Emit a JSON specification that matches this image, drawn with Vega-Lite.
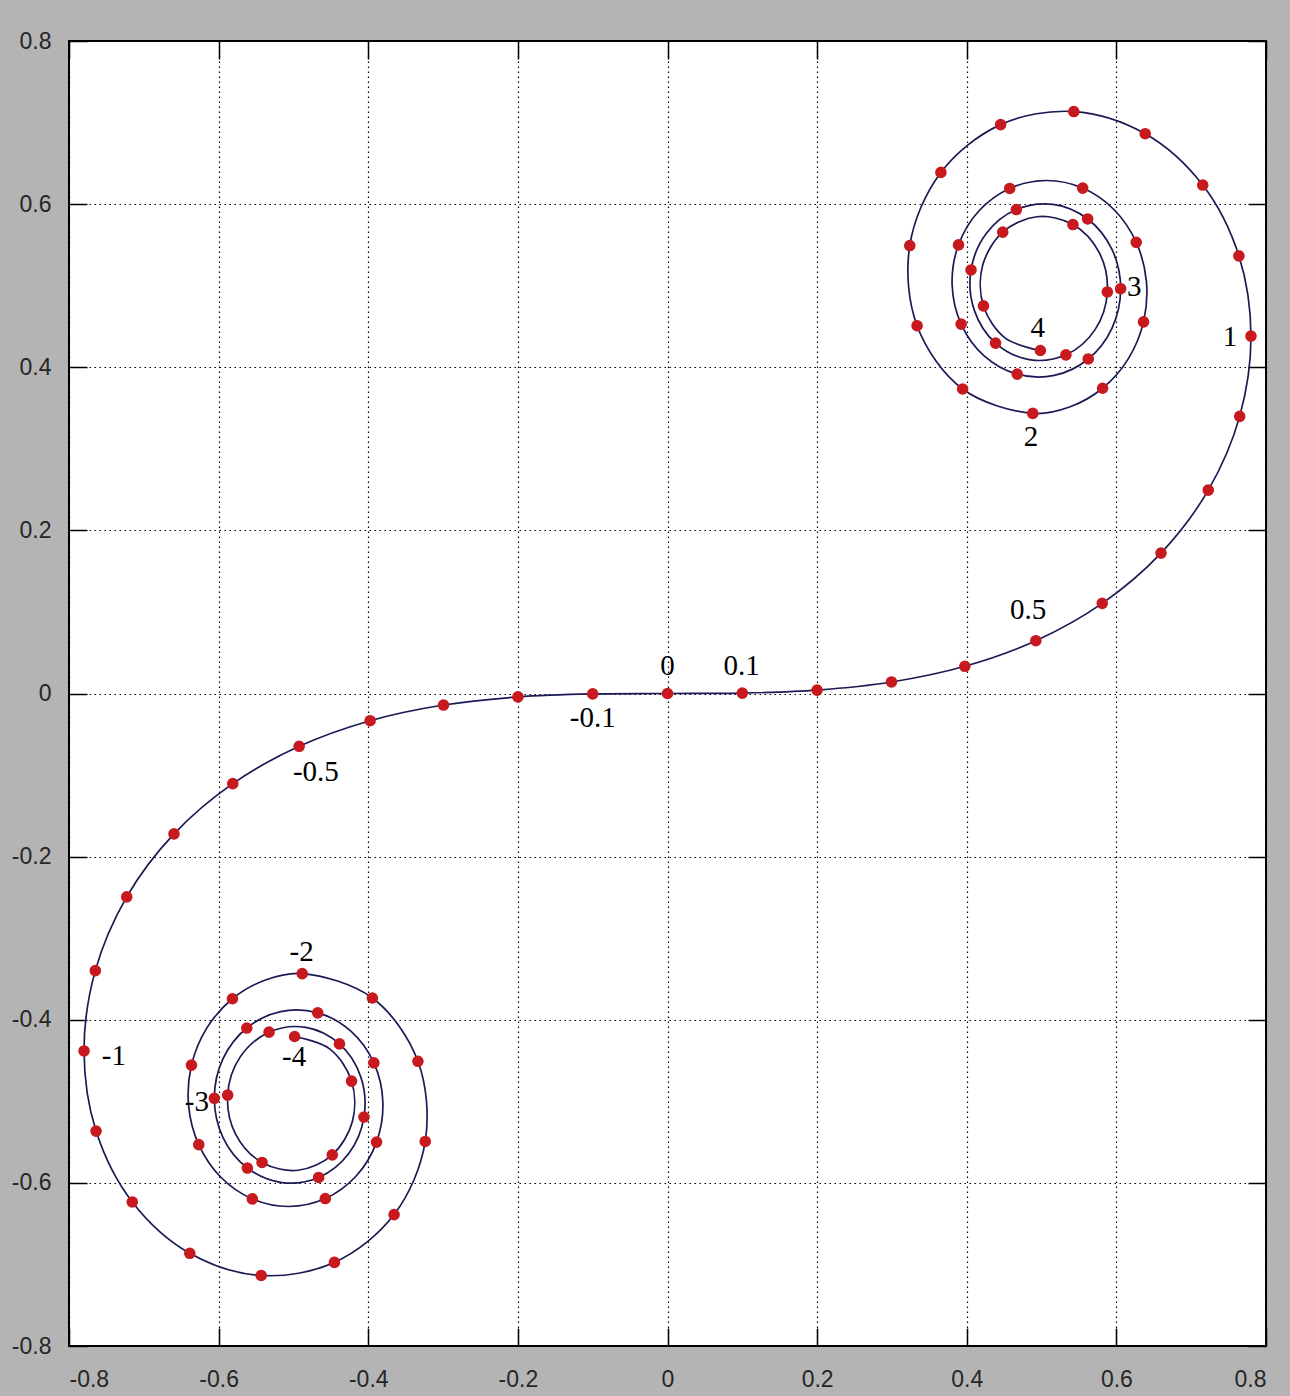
{
  "$schema": "https://vega.github.io/schema/vega-lite/v6.json",
  "width": 1197,
  "height": 1305,
  "autosize": {"type": "none"},
  "padding": {"left": 69, "top": 41, "right": 24, "bottom": 50},
  "background": "#b4b4b4",
  "config": {
    "view": {"fill": "white", "stroke": "black", "strokeWidth": 2},
    "axis": {
      "title": null,
      "domain": false,
      "labelFont": "Liberation Sans",
      "labelFontSize": 23,
      "labelColor": "#262626",
      "tickColor": "black",
      "tickWidth": 1.5,
      "tickSize": -18,
      "gridColor": "black",
      "gridOpacity": 1,
      "gridWidth": 1.2,
      "gridDash": [1.5, 3.5]
    }
  },
  "datasets": {
    "curve": [
      {"t": -4.0, "x": -0.49842, "y": -0.42052, "kind": "step"},
      {"t": -3.95, "x": -0.45159, "y": -0.43566, "kind": "mid"},
      {"t": -3.9, "x": -0.42233, "y": -0.47521, "kind": "step"},
      {"t": -3.85, "x": -0.42110, "y": -0.52444, "kind": "mid"},
      {"t": -3.8, "x": -0.44810, "y": -0.56562, "kind": "step"},
      {"t": -3.75, "x": -0.49361, "y": -0.58455, "kind": "mid"},
      {"t": -3.7, "x": -0.54195, "y": -0.57498, "kind": "step"},
      {"t": -3.65, "x": -0.57715, "y": -0.54043, "kind": "mid"},
      {"t": -3.6, "x": -0.58795, "y": -0.49231, "kind": "step"},
      {"t": -3.55, "x": -0.57130, "y": -0.44583, "kind": "mid"},
      {"t": -3.5, "x": -0.53257, "y": -0.41524, "kind": "step"},
      {"t": -3.45, "x": -0.48352, "y": -0.40936, "kind": "mid"},
      {"t": -3.4, "x": -0.43849, "y": -0.42965, "kind": "step"},
      {"t": -3.35, "x": -0.41001, "y": -0.47005, "kind": "mid"},
      {"t": -3.3, "x": -0.40570, "y": -0.51929, "kind": "step"},
      {"t": -3.25, "x": -0.42633, "y": -0.56425, "kind": "mid"},
      {"t": -3.2, "x": -0.46632, "y": -0.59335, "kind": "step"},
      {"t": -3.15, "x": -0.51543, "y": -0.59963, "kind": "mid"},
      {"t": -3.1, "x": -0.56160, "y": -0.58181, "kind": "step"},
      {"t": -3.05, "x": -0.59412, "y": -0.54445, "kind": "mid"},
      {"t": -3.0, "x": -0.60572, "y": -0.49631, "kind": "step"},
      {"t": -2.95, "x": -0.59423, "y": -0.44810, "kind": "mid"},
      {"t": -2.9, "x": -0.56238, "y": -0.41014, "kind": "step"},
      {"t": -2.85, "x": -0.51705, "y": -0.39002, "kind": "mid"},
      {"t": -2.8, "x": -0.46749, "y": -0.39153, "kind": "step"},
      {"t": -2.75, "x": -0.42324, "y": -0.41399, "kind": "mid"},
      {"t": -2.7, "x": -0.39249, "y": -0.45292, "kind": "step"},
      {"t": -2.65, "x": -0.38045, "y": -0.50108, "kind": "mid"},
      {"t": -2.6, "x": -0.38894, "y": -0.54999, "kind": "step"},
      {"t": -2.55, "x": -0.41614, "y": -0.59155, "kind": "mid"},
      {"t": -2.5, "x": -0.45741, "y": -0.61918, "kind": "step"},
      {"t": -2.45, "x": -0.50614, "y": -0.62896, "kind": "mid"},
      {"t": -2.4, "x": -0.55496, "y": -0.61969, "kind": "step"},
      {"t": -2.35, "x": -0.59699, "y": -0.59312, "kind": "mid"},
      {"t": -2.3, "x": -0.62656, "y": -0.55315, "kind": "step"},
      {"t": -2.25, "x": -0.64015, "y": -0.50529, "kind": "mid"},
      {"t": -2.2, "x": -0.63629, "y": -0.45570, "kind": "step"},
      {"t": -2.15, "x": -0.61587, "y": -0.41031, "kind": "mid"},
      {"t": -2.1, "x": -0.58156, "y": -0.37427, "kind": "step"},
      {"t": -2.05, "x": -0.53740, "y": -0.35127, "kind": "mid"},
      {"t": -2.0, "x": -0.48825, "y": -0.34342, "kind": "step"},
      {"t": -1.9, "x": -0.39447, "y": -0.37335, "kind": "step"},
      {"t": -1.8, "x": -0.33363, "y": -0.45094, "kind": "step"},
      {"t": -1.7, "x": -0.32383, "y": -0.54920, "kind": "step"},
      {"t": -1.6, "x": -0.36546, "y": -0.63889, "kind": "step"},
      {"t": -1.5, "x": -0.44526, "y": -0.69750, "kind": "step"},
      {"t": -1.4, "x": -0.54310, "y": -0.71353, "kind": "step"},
      {"t": -1.3, "x": -0.63855, "y": -0.68633, "kind": "step"},
      {"t": -1.2, "x": -0.71544, "y": -0.62340, "kind": "step"},
      {"t": -1.1, "x": -0.76381, "y": -0.53650, "kind": "step"},
      {"t": -1.0, "x": -0.77989, "y": -0.43826, "kind": "step"},
      {"t": -0.9, "x": -0.76482, "y": -0.33978, "kind": "step"},
      {"t": -0.8, "x": -0.72284, "y": -0.24934, "kind": "step"},
      {"t": -0.7, "x": -0.65965, "y": -0.17214, "kind": "step"},
      {"t": -0.6, "x": -0.58110, "y": -0.11054, "kind": "step"},
      {"t": -0.5, "x": -0.49234, "y": -0.06473, "kind": "step"},
      {"t": -0.4, "x": -0.39748, "y": -0.03336, "kind": "step"},
      {"t": -0.3, "x": -0.29940, "y": -0.01412, "kind": "step"},
      {"t": -0.2, "x": -0.19992, "y": -0.00419, "kind": "step"},
      {"t": -0.1, "x": -0.09999, "y": -0.00052, "kind": "step"},
      {"t": 0.0, "x": 0.0, "y": 0.0, "kind": "step"},
      {"t": 0.1, "x": 0.09999, "y": 0.00052, "kind": "step"},
      {"t": 0.2, "x": 0.19992, "y": 0.00419, "kind": "step"},
      {"t": 0.3, "x": 0.29940, "y": 0.01412, "kind": "step"},
      {"t": 0.4, "x": 0.39748, "y": 0.03336, "kind": "step"},
      {"t": 0.5, "x": 0.49234, "y": 0.06473, "kind": "step"},
      {"t": 0.6, "x": 0.58110, "y": 0.11054, "kind": "step"},
      {"t": 0.7, "x": 0.65965, "y": 0.17214, "kind": "step"},
      {"t": 0.8, "x": 0.72284, "y": 0.24934, "kind": "step"},
      {"t": 0.9, "x": 0.76482, "y": 0.33978, "kind": "step"},
      {"t": 1.0, "x": 0.77989, "y": 0.43826, "kind": "step"},
      {"t": 1.1, "x": 0.76381, "y": 0.53650, "kind": "step"},
      {"t": 1.2, "x": 0.71544, "y": 0.62340, "kind": "step"},
      {"t": 1.3, "x": 0.63855, "y": 0.68633, "kind": "step"},
      {"t": 1.4, "x": 0.54310, "y": 0.71353, "kind": "step"},
      {"t": 1.5, "x": 0.44526, "y": 0.69750, "kind": "step"},
      {"t": 1.6, "x": 0.36546, "y": 0.63889, "kind": "step"},
      {"t": 1.7, "x": 0.32383, "y": 0.54920, "kind": "step"},
      {"t": 1.8, "x": 0.33363, "y": 0.45094, "kind": "step"},
      {"t": 1.9, "x": 0.39447, "y": 0.37335, "kind": "step"},
      {"t": 2.0, "x": 0.48825, "y": 0.34342, "kind": "step"},
      {"t": 2.05, "x": 0.53740, "y": 0.35127, "kind": "mid"},
      {"t": 2.1, "x": 0.58156, "y": 0.37427, "kind": "step"},
      {"t": 2.15, "x": 0.61587, "y": 0.41031, "kind": "mid"},
      {"t": 2.2, "x": 0.63629, "y": 0.45570, "kind": "step"},
      {"t": 2.25, "x": 0.64015, "y": 0.50529, "kind": "mid"},
      {"t": 2.3, "x": 0.62656, "y": 0.55315, "kind": "step"},
      {"t": 2.35, "x": 0.59699, "y": 0.59312, "kind": "mid"},
      {"t": 2.4, "x": 0.55496, "y": 0.61969, "kind": "step"},
      {"t": 2.45, "x": 0.50614, "y": 0.62896, "kind": "mid"},
      {"t": 2.5, "x": 0.45741, "y": 0.61918, "kind": "step"},
      {"t": 2.55, "x": 0.41614, "y": 0.59155, "kind": "mid"},
      {"t": 2.6, "x": 0.38894, "y": 0.54999, "kind": "step"},
      {"t": 2.65, "x": 0.38045, "y": 0.50108, "kind": "mid"},
      {"t": 2.7, "x": 0.39249, "y": 0.45292, "kind": "step"},
      {"t": 2.75, "x": 0.42324, "y": 0.41399, "kind": "mid"},
      {"t": 2.8, "x": 0.46749, "y": 0.39153, "kind": "step"},
      {"t": 2.85, "x": 0.51705, "y": 0.39002, "kind": "mid"},
      {"t": 2.9, "x": 0.56238, "y": 0.41014, "kind": "step"},
      {"t": 2.95, "x": 0.59423, "y": 0.44810, "kind": "mid"},
      {"t": 3.0, "x": 0.60572, "y": 0.49631, "kind": "step"},
      {"t": 3.05, "x": 0.59412, "y": 0.54445, "kind": "mid"},
      {"t": 3.1, "x": 0.56160, "y": 0.58181, "kind": "step"},
      {"t": 3.15, "x": 0.51543, "y": 0.59963, "kind": "mid"},
      {"t": 3.2, "x": 0.46632, "y": 0.59335, "kind": "step"},
      {"t": 3.25, "x": 0.42633, "y": 0.56425, "kind": "mid"},
      {"t": 3.3, "x": 0.40570, "y": 0.51929, "kind": "step"},
      {"t": 3.35, "x": 0.41001, "y": 0.47005, "kind": "mid"},
      {"t": 3.4, "x": 0.43849, "y": 0.42965, "kind": "step"},
      {"t": 3.45, "x": 0.48352, "y": 0.40936, "kind": "mid"},
      {"t": 3.5, "x": 0.53257, "y": 0.41524, "kind": "step"},
      {"t": 3.55, "x": 0.57130, "y": 0.44583, "kind": "mid"},
      {"t": 3.6, "x": 0.58795, "y": 0.49231, "kind": "step"},
      {"t": 3.65, "x": 0.57715, "y": 0.54043, "kind": "mid"},
      {"t": 3.7, "x": 0.54195, "y": 0.57498, "kind": "step"},
      {"t": 3.75, "x": 0.49361, "y": 0.58455, "kind": "mid"},
      {"t": 3.8, "x": 0.44810, "y": 0.56562, "kind": "step"},
      {"t": 3.85, "x": 0.42110, "y": 0.52444, "kind": "mid"},
      {"t": 3.9, "x": 0.42233, "y": 0.47521, "kind": "step"},
      {"t": 3.95, "x": 0.45159, "y": 0.43566, "kind": "mid"},
      {"t": 4.0, "x": 0.49842, "y": 0.42052, "kind": "step"}
    ],
    "labels": [
      {"label": "0", "x": 0.0, "y": 0.034},
      {"label": "0.1", "x": 0.099, "y": 0.034},
      {"label": "-0.1", "x": -0.1, "y": -0.03},
      {"label": "0.5", "x": 0.482, "y": 0.102},
      {"label": "-0.5", "x": -0.47, "y": -0.096},
      {"label": "1", "x": 0.752, "y": 0.437},
      {"label": "-1", "x": -0.74, "y": -0.445},
      {"label": "2", "x": 0.486, "y": 0.315},
      {"label": "-2", "x": -0.489, "y": -0.317},
      {"label": "3", "x": 0.624, "y": 0.499},
      {"label": "-3", "x": -0.629, "y": -0.501},
      {"label": "4", "x": 0.495, "y": 0.448},
      {"label": "-4", "x": -0.499, "y": -0.446}
    ]
  },
  "layer": [
    {
      "data": {"name": "curve"},
      "mark": {"type": "line", "interpolate": "catmull-rom", "color": "#1a1a55", "strokeWidth": 1.7},
      "encoding": {
        "x": {
          "field": "x", "type": "quantitative",
          "scale": {"domain": [-0.8, 0.8], "nice": false, "zero": false},
          "axis": {
            "orient": "bottom", "grid": true,
            "values": [-0.8, -0.6, -0.4, -0.2, 0, 0.2, 0.4, 0.6, 0.8],
            "labelPadding": 40,
            "labelExpr": "(datum.value < 0 ? '-' : '') + format(abs(datum.value), '.1~f')"
          }
        },
        "y": {
          "field": "y", "type": "quantitative",
          "scale": {"domain": [-0.8, 0.8], "nice": false, "zero": false},
          "axis": {
            "orient": "left", "grid": true,
            "values": [-0.8, -0.6, -0.4, -0.2, 0, 0.2, 0.4, 0.6, 0.8],
            "labelPadding": 36,
            "labelExpr": "(datum.value < 0 ? '-' : '') + format(abs(datum.value), '.1~f')"
          }
        },
        "order": {"field": "t", "type": "quantitative"}
      }
    },
    {
      "data": {"name": "curve"},
      "transform": [{"filter": "datum.kind == 'step'"}],
      "mark": {"type": "circle", "size": 135, "color": "#c81a1e", "opacity": 1},
      "encoding": {
        "x": {
          "field": "x", "type": "quantitative",
          "scale": {"domain": [-0.8, 0.8], "nice": false, "zero": false},
          "axis": {"orient": "top", "grid": false, "labels": false,
                   "values": [-0.8, -0.6, -0.4, -0.2, 0, 0.2, 0.4, 0.6, 0.8]}
        },
        "y": {
          "field": "y", "type": "quantitative",
          "scale": {"domain": [-0.8, 0.8], "nice": false, "zero": false},
          "axis": {"orient": "right", "grid": false, "labels": false,
                   "values": [-0.8, -0.6, -0.4, -0.2, 0, 0.2, 0.4, 0.6, 0.8]}
        }
      }
    },
    {
      "data": {"name": "labels"},
      "mark": {"type": "text", "font": "Liberation Serif", "fontSize": 29, "color": "black", "baseline": "middle", "align": "center"},
      "encoding": {
        "x": {"field": "x", "type": "quantitative", "axis": null},
        "y": {"field": "y", "type": "quantitative", "axis": null},
        "text": {"field": "label", "type": "nominal"}
      }
    }
  ],
  "resolve": {"axis": {"x": "independent", "y": "independent"}}
}
